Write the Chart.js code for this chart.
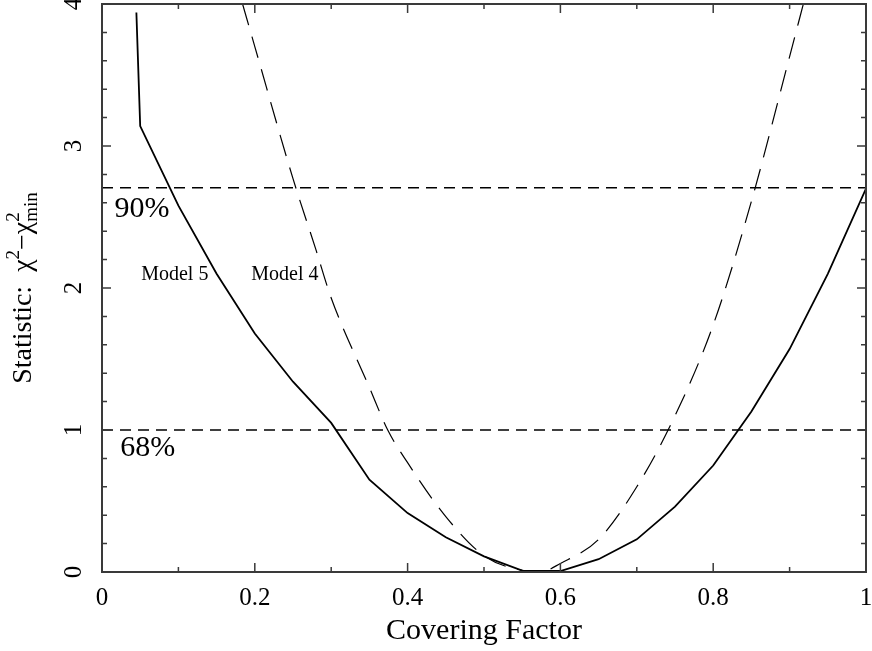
<!DOCTYPE html>
<html><head><meta charset="utf-8">
<script src="https://cdn.jsdelivr.net/npm/chart.js@4/dist/chart.umd.min.js"></script>
<style>html,body{margin:0;padding:0;background:#fff;overflow:hidden}#wrap{width:872px;height:651px}</style>
</head><body><div id="wrap"><canvas id="c" width="872" height="651"></canvas></div>
<script>
// Model 5 (solid)
const model5X = [0.045, 0.05, 0.10, 0.15, 0.20, 0.25, 0.30, 0.35, 0.40, 0.45, 0.50, 0.55, 0.575, 0.60, 0.65, 0.70, 0.75, 0.80, 0.85, 0.90, 0.95, 1.00];
const model5Y = [3.94, 3.14, 2.58, 2.10, 1.68, 1.34, 1.05, 0.65, 0.415, 0.245, 0.11, 0.01, 0.007, 0.007, 0.09, 0.23, 0.46, 0.75, 1.13, 1.57, 2.10, 2.70];
// Model 4 (dashed)
const model4X = [0.184, 0.20, 0.25, 0.28, 0.30, 0.35, 0.374, 0.40, 0.45, 0.50, 0.55, 0.575, 0.60, 0.65, 0.70, 0.75, 0.80, 0.85, 0.90, 0.918];
const model4Y = [4.00, 3.70, 2.77, 2.27, 1.93, 1.30, 1.00, 0.77, 0.39, 0.115, 0.012, 0.003, 0.06, 0.23, 0.60, 1.10, 1.74, 2.61, 3.63, 4.00];
// confidence levels
const levelValues = [2.706, 1.0];
const levelLabels = ['90%', '68%'];
const modelLabels = ['Model 5', 'Model 4'];
// axes
const xMajorTicks = [0, 0.2, 0.4, 0.6, 0.8, 1];
const xTickLabels = ['0', '0.2', '0.4', '0.6', '0.8', '1'];
const xMinorTicks = [0.1, 0.3, 0.5, 0.7, 0.9];
const yMajorTicks = [0, 1, 2, 3, 4];
const yTickLabels = ['0', '1', '2', '3', '4'];
const yMinorTicks = [0.2,0.4,0.6,0.8,1.2,1.4,1.6,1.8,2.2,2.4,2.6,2.8,3.2,3.4,3.6,3.8];
const xTitle = 'Covering Factor';

const toPts = (xs, ys) => xs.map((x, i) => ({x: x, y: ys[i]}));
const SERIF = '"Liberation Serif", "Times New Roman", serif';
const INK = '#000';
const FRAME = '#3a3a3a';

const levelSets = levelValues.map(v => ({
  data: [{x: 0, y: v}, {x: 1, y: v}],
  borderColor: INK, borderWidth: 1.3, borderDash: [11, 7],
  pointRadius: 0, showLine: true, fill: false
}));

const decor = {
  id: 'decor',
  afterDraw(chart) {
    const ctx = chart.ctx, xs = chart.scales.x, ys = chart.scales.y;
    const a = chart.chartArea;
    ctx.save();
    // frame
    ctx.strokeStyle = FRAME; ctx.lineWidth = 2;
    ctx.strokeRect(a.left, a.top, a.right - a.left, a.bottom - a.top);
    // ticks
    ctx.lineWidth = 1.5;
    const vt = (v, len) => {
      const p = xs.getPixelForValue(v);
      ctx.beginPath();
      ctx.moveTo(p, a.bottom); ctx.lineTo(p, a.bottom - len);
      ctx.moveTo(p, a.top); ctx.lineTo(p, a.top + len);
      ctx.stroke();
    };
    const ht = (v, len) => {
      const p = ys.getPixelForValue(v);
      ctx.beginPath();
      ctx.moveTo(a.left, p); ctx.lineTo(a.left + len, p);
      ctx.moveTo(a.right, p); ctx.lineTo(a.right - len, p);
      ctx.stroke();
    };
    xMajorTicks.forEach(v => vt(v, 9));
    xMinorTicks.forEach(v => vt(v, 5));
    yMajorTicks.forEach(v => ht(v, 9));
    yMinorTicks.forEach(v => ht(v, 5));
    // x tick labels
    ctx.fillStyle = INK;
    ctx.font = '25px ' + SERIF;
    ctx.textAlign = 'center'; ctx.textBaseline = 'alphabetic';
    xMajorTicks.forEach((v, i) => ctx.fillText(xTickLabels[i], xs.getPixelForValue(v), 605));
    // y tick labels (rotated)
    yMajorTicks.forEach((v, i) => {
      ctx.save();
      ctx.translate(81, ys.getPixelForValue(v));
      ctx.rotate(-Math.PI / 2);
      ctx.fillText(yTickLabels[i], 0, 0);
      ctx.restore();
    });
    // x title
    ctx.font = '30px ' + SERIF;
    ctx.fillText(xTitle, (a.left + a.right) / 2, 639);
    // y title with super/subscripts
    ctx.save();
    ctx.translate(31, (a.top + a.bottom) / 2);
    ctx.rotate(-Math.PI / 2);
    const big = '28px ' + SERIF, small = '19px ' + SERIF;
    const segs = [
      {t: 'Statistic:  ', f: big, dy: 0},
      {t: '\u03C7', f: big, dy: 0},
      {t: '2', f: small, dy: -12},
      {t: '\u2212', f: big, dy: 0},
      {t: '\u03C7', f: big, dy: 0}
    ];
    let total = 0;
    segs.forEach(s => { ctx.font = s.f; s.w = ctx.measureText(s.t).width; total += s.w; });
    ctx.font = small;
    const wSup = ctx.measureText('2').width, wSub = ctx.measureText('min').width;
    total += Math.max(wSup, wSub);
    let u = -total / 2;
    ctx.textAlign = 'left';
    segs.forEach(s => { ctx.font = s.f; ctx.fillText(s.t, u, s.dy); u += s.w; });
    ctx.font = small;
    ctx.fillText('2', u, -12);
    ctx.fillText('min', u, 6);
    ctx.restore();
    // level labels
    ctx.textAlign = 'left';
    ctx.font = '30px ' + SERIF;
    ctx.fillText(levelLabels[0], xs.getPixelForValue(0.0164), ys.getPixelForValue(2.50));
    ctx.fillText(levelLabels[1], xs.getPixelForValue(0.0238), ys.getPixelForValue(0.815));
    // model labels
    ctx.font = '20px ' + SERIF;
    ctx.fillText(modelLabels[0], xs.getPixelForValue(0.0513), ys.getPixelForValue(2.056));
    ctx.fillText(modelLabels[1], xs.getPixelForValue(0.1954), ys.getPixelForValue(2.056));
    ctx.restore();
  }
};

new Chart(document.getElementById('c'), {
  type: 'scatter',
  data: {
    datasets: [
      {label: modelLabels[0], data: toPts(model5X, model5Y), showLine: true, borderColor: INK, borderWidth: 1.8, pointRadius: 0, tension: 0, fill: false},
      {label: modelLabels[1], data: toPts(model4X, model4Y), showLine: true, borderColor: INK, borderWidth: 1.2, borderDash: [22, 12], pointRadius: 0, cubicInterpolationMode: 'monotone', fill: false}
    ].concat(levelSets)
  },
  options: {
    responsive: false,
    animation: false,
    devicePixelRatio: 1,
    layout: {padding: {left: 102, top: 4, right: 6, bottom: 79}},
    plugins: {legend: {display: false}, tooltip: {enabled: false}},
    scales: {
      x: {type: 'linear', min: 0, max: 1, display: false},
      y: {type: 'linear', min: 0, max: 4, display: false}
    }
  },
  plugins: [decor]
});
</script>
</body></html>
